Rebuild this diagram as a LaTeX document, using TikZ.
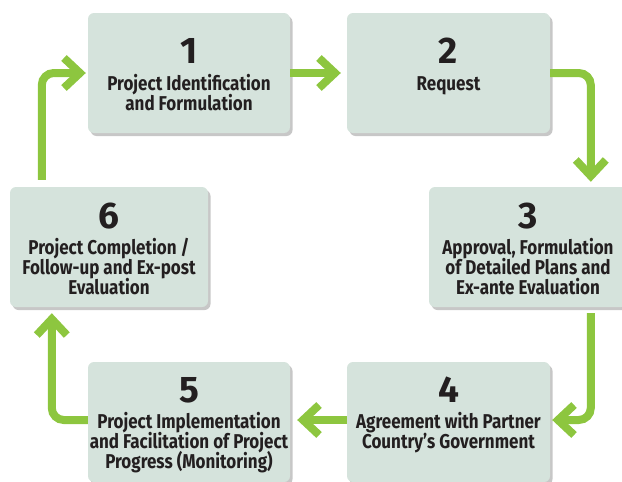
\documentclass[tikz,border=0pt]{standalone}
\usepackage{fontspec}
\setmainfont{Fira Sans}
\newfontfamily\lblfont{Fira Sans}[FakeStretch=0.85]
\newfontfamily\numfont{Fira Sans}
\usetikzlibrary{arrows.meta,shadows,calc}
\definecolor{boxfill}{HTML}{D5E3DC}
\definecolor{flowgreen}{HTML}{8DC63F}
\definecolor{inkdark}{HTML}{231F20}
\tikzset{
  stepbox/.style={draw=none, fill=boxfill, rounded corners=6pt, inner sep=0pt,
    minimum height=120pt,
    drop shadow={shadow xshift=2.5pt, shadow yshift=-3pt, fill=black, opacity=0.22}},
  numtext/.style={anchor=base, inner sep=0pt, text=inkdark, font=\numfont\bfseries\fontsize{37}{40}\selectfont},
  lbltext/.style={anchor=base, inner sep=0pt, text=inkdark, font=\lblfont\bfseries\fontsize{20}{20}\selectfont},
  flow/.style={draw=flowgreen, line width=8pt, rounded corners=12pt,
    -{Straight Barb[length=16pt,width=30pt]}}
}
\begin{document}
\begin{tikzpicture}[x=1pt,y=-1pt]
\useasboundingbox (0,0) rectangle (622,482);
% boxes
\node[stepbox, minimum width=202pt] (b1) at (189,73) {};
\node[stepbox, minimum width=203pt] (b2) at (448.5,73) {};
\node[stepbox, minimum width=198pt] (b6) at (109,247) {};
\node[stepbox, minimum width=198pt] (b3) at (528,247) {};
\node[stepbox, minimum width=202pt] (b5) at (189,422) {};
\node[stepbox, minimum width=203pt] (b4) at (448.5,422) {};
% numbers
\node[numtext] (n1) at (189,63) {1};
\node[numtext] (n2) at (448.5,63) {2};
\node[numtext] (n6) at (109,228) {6};
\node[numtext] (n3) at (528,228) {3};
\node[numtext] (n5) at (189,402) {5};
\node[numtext] (n4) at (448.5,402) {4};
% labels
\node[lbltext] (l1a) at (189,90) {Project Identification};
\node[lbltext] (l1b) at (189,110) {and Formulation};
\node[lbltext] (l2a) at (448.5,90) {Request};
\node[lbltext] (l6a) at (109,254) {Project Completion /};
\node[lbltext] (l6b) at (109,274) {Follow-up and Ex-post};
\node[lbltext] (l6c) at (109,294) {Evaluation};
\node[lbltext] (l3a) at (528,254) {Approval, Formulation};
\node[lbltext] (l3b) at (528,274) {of Detailed Plans and};
\node[lbltext] (l3c) at (528,294) {Ex-ante Evaluation};
\node[lbltext] (l5a) at (189,428) {Project Implementation};
\node[lbltext] (l5b) at (189,448) {and Facilitation of Project};
\node[lbltext] (l5c) at (189,468) {Progress (Monitoring)};
\node[lbltext] (l4a) at (448.5,428) {Agreement with Partner};
\node[lbltext] (l4b) at (448.5,448) {Country’s Government};
% connectors
\draw[flow, shorten <=7pt, shorten >=2pt] ([xshift=32pt]b6.north west) |- (b1.west);
\draw[flow, shorten >=6pt] (b1.east) -- (b2.west);
\draw[flow, shorten >=5pt] (b2.east) -| ([xshift=162pt]b3.north west);
\draw[flow, shorten <=6pt, shorten >=2pt] ([xshift=162pt]b3.south west) |- ([yshift=2pt]b4.east);
\draw[flow, shorten >=7pt] ([yshift=2pt]b4.west) -- ([yshift=2pt]b5.east);
\draw[flow, shorten >=6pt] ([yshift=2pt]b5.west) -| ([xshift=42pt]b6.south west);
\end{tikzpicture}
\end{document}
